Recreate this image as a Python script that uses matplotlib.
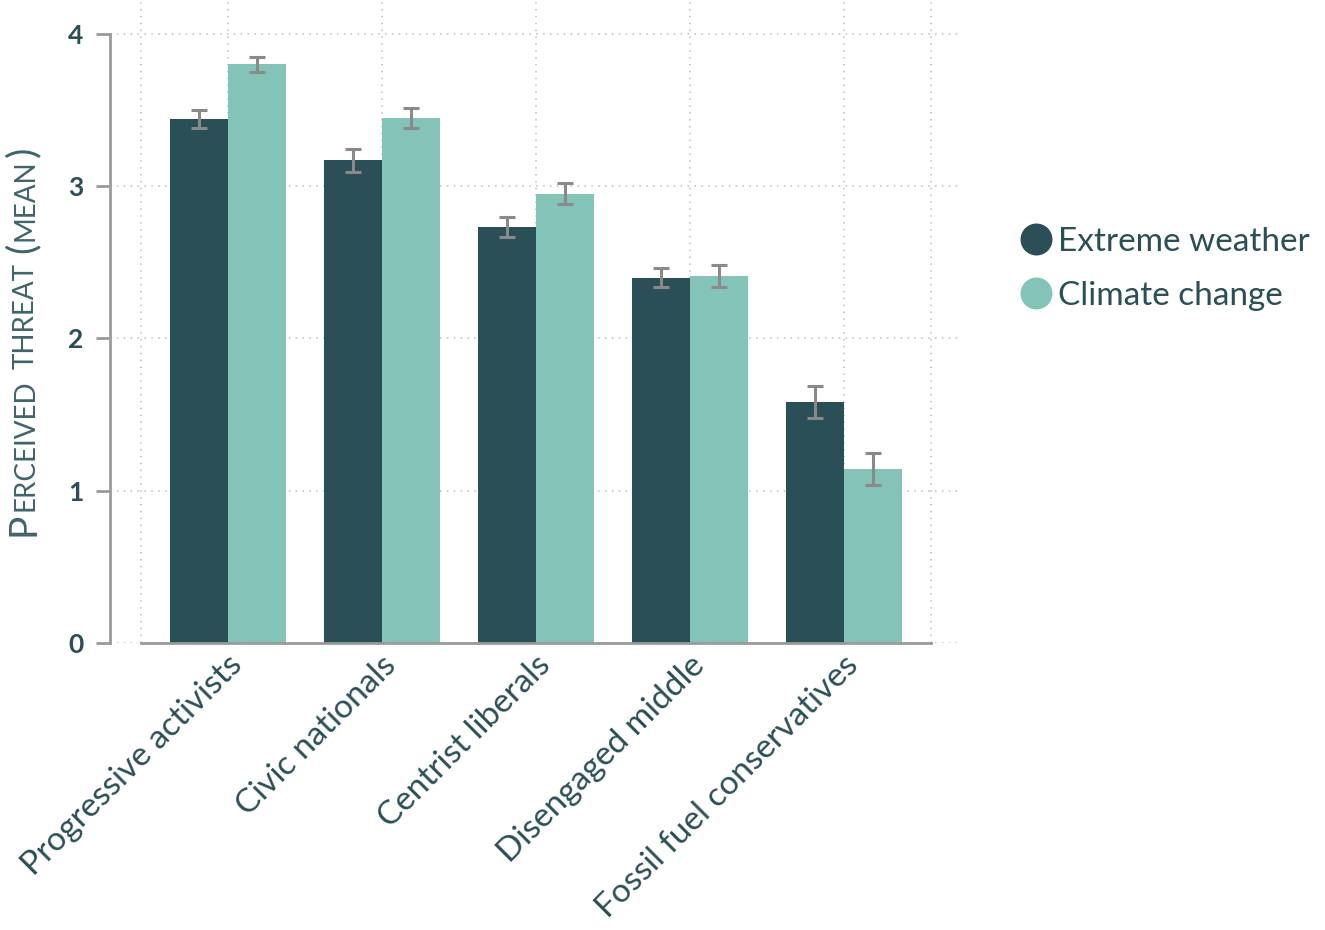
import matplotlib
matplotlib.use("Agg")
import matplotlib.pyplot as plt
import matplotlib.transforms as mtrans
from matplotlib.lines import Line2D
import numpy as np

# segments and mean perceived threat
segments = ["Progressive activists", "Civic nationals", "Centrist liberals",
            "Disengaged middle", "Fossil fuel conservatives"]
extreme_weather = [3.44, 3.17, 2.73, 2.40, 1.58]
extreme_weather_err = [0.06, 0.075, 0.065, 0.06, 0.105]
climate_change = [3.80, 3.45, 2.95, 2.41, 1.14]
climate_change_err = [0.05, 0.065, 0.07, 0.07, 0.105]
series_names = ["Extreme weather", "Climate change"]
y_ticks = [0, 1, 2, 3, 4]

DARK = "#2b4f56"
LIGHT = "#84c3b8"
GREY = "#9a9a9a"
LABEL_COL = "#3f6469"

plt.rcParams['font.family'] = ['Lato', 'DejaVu Sans']

W, H = 1325, 930
fig = plt.figure(figsize=(W / 100, H / 100), dpi=100)
ax = fig.add_axes([110 / W, 287 / H, 850 / W, 643 / H])

x = np.arange(len(segments))
bw = 0.377
err_kw = dict(ecolor="#8a8a8a", elinewidth=2.2, capsize=6, capthick=2.2)
ax.bar(x - bw / 2, extreme_weather, bw, yerr=extreme_weather_err, color=DARK,
       error_kw=err_kw, zorder=3)
ax.bar(x + bw / 2, climate_change, bw, yerr=climate_change_err, color=LIGHT,
       error_kw=err_kw, zorder=3)

ax.set_xlim(-0.766, 4.753)
ax.set_ylim(0, 4.223)

# grid: verticals at the group centres and at both ends of the x axis line
ax.set_xticks(x)
ax.set_xticks([-0.565, 4.565], minor=True)
ax.set_yticks(y_ticks)
ax.grid(True, which="both", color="#bdbdbd", linestyle=(0, (1, 3.5)), linewidth=1.1, zorder=0)
ax.set_axisbelow(True)

for s in ("top", "right"):
    ax.spines[s].set_visible(False)
ax.spines["bottom"].set_bounds(-0.565, 4.565)
ax.spines["left"].set_bounds(0, 4)
for s in ("bottom", "left"):
    ax.spines[s].set_color(GREY)
    ax.spines[s].set_linewidth(2)
    ax.spines[s].set_zorder(4)

ax.tick_params(axis="x", which="both", length=0, pad=5)
ax.tick_params(axis="y", length=10, width=2, color=GREY, pad=9)
ax.set_yticklabels([str(v) for v in y_ticks], fontsize=19, fontweight="bold", color=DARK)
ax.set_xticklabels(segments, rotation=45, ha="right", va="top",
                   rotation_mode="anchor", fontsize=24, color=DARK)
offset = mtrans.ScaledTranslation(-1 / 100, 0, fig.dpi_scale_trans)
for lab in ax.get_xticklabels():
    lab.set_transform(lab.get_transform() + offset)

# legend
handles = [Line2D([], [], marker="o", linestyle="", markersize=22, color=c)
           for c in (DARK, LIGHT)]
leg = fig.legend(handles, series_names, loc="center left",
                 bbox_to_anchor=(1004 / W, 1 - 269 / H), frameon=False,
                 fontsize=24, handletextpad=0.12, labelspacing=0.72,
                 handlelength=1.1, borderaxespad=0)
for t in leg.get_texts():
    t.set_color(DARK)

# small-caps y label built from pieces
fig.canvas.draw()
r = fig.canvas.get_renderer()
pieces = [("P", 28), ("ERCEIVED", 20), (" ", 20), ("THREAT", 20), (" ", 20),
          ("(", 28), ("MEAN", 20), (")", 28)]
ypos = H - 536
for s, size in pieces:
    t = fig.text(34 / W, ypos / H, s, rotation=90, rotation_mode="anchor",
                 ha="left", va="baseline", fontsize=size, color=LABEL_COL)
    if s.strip():
        ypos += t.get_window_extent(r).height + 2
    else:
        ypos += size * 0.4
        t.remove()

fig.savefig("out.png", dpi=100)
